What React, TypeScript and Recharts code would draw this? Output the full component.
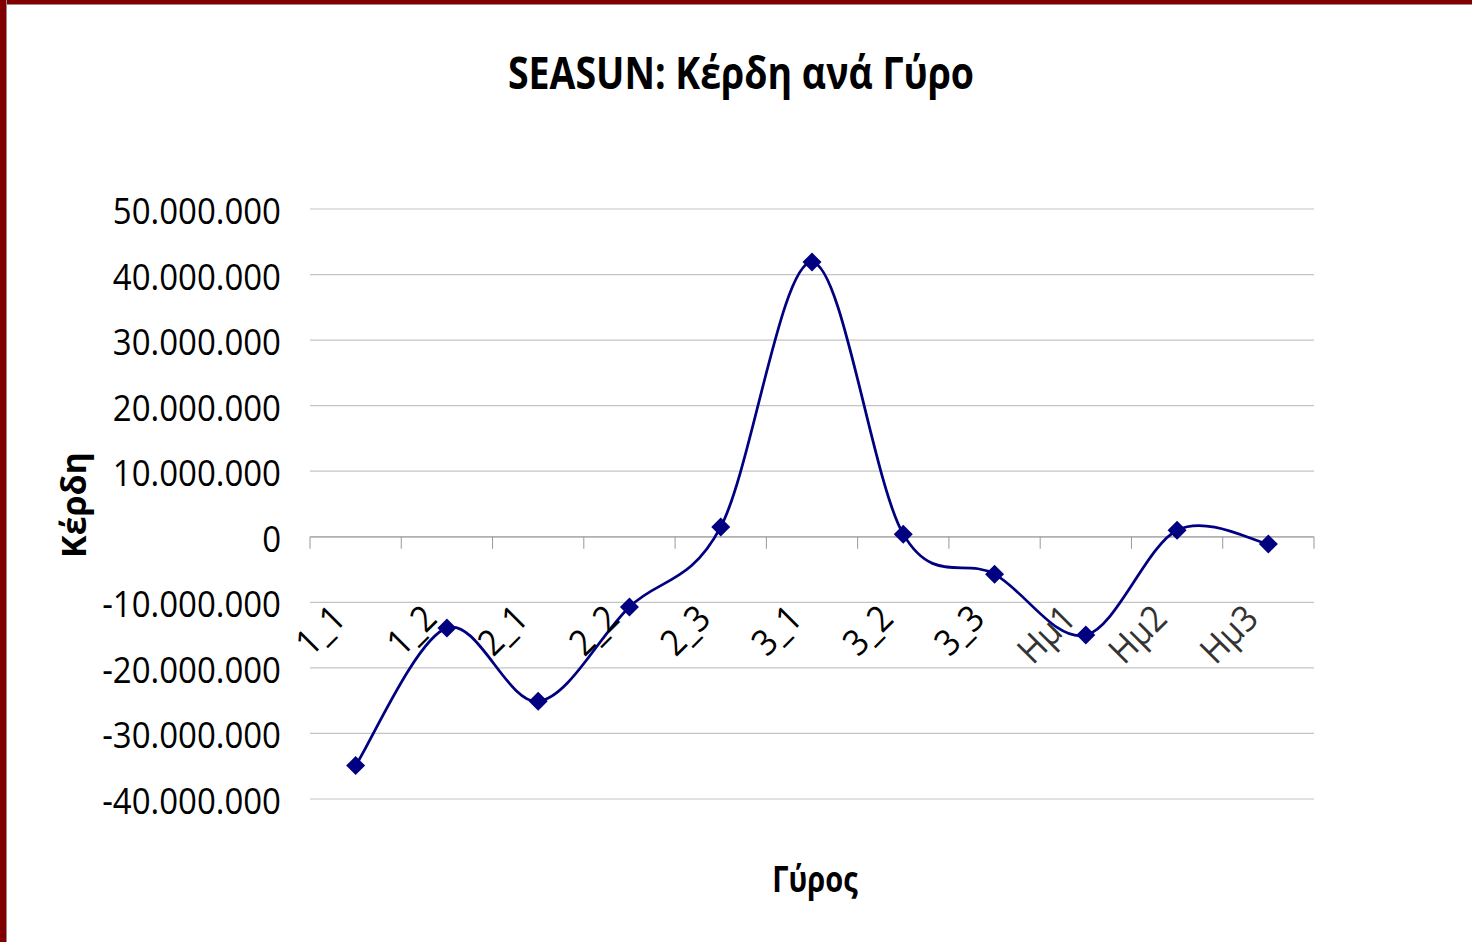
import React from 'react';
import {
  LineChart,
  Line,
  XAxis,
  YAxis,
  CartesianGrid,
  ReferenceLine,
  ReferenceDot,
} from 'recharts';

// rounds and profit per round
const rounds = ['1_1', '1_2', '2_1', '2_2', '2_3', '3_1', '3_2', '3_3', 'Ημ1', 'Ημ2', 'Ημ3'];
const profits = [
  -34900000, -13900000, -25100000, -10700000, 1500000, 41900000,
  400000, -5700000, -15000000, 1000000, -1100000,
];
const yTicks = [-40000000, -30000000, -20000000, -10000000, 0, 10000000, 20000000, 30000000, 40000000, 50000000];

const data = rounds.map((name, i) => ({ idx: i, name, profit: profits[i] }));
// category borders, where Excel puts its tick marks
const borders = rounds.map((_, i) => i - 0.5).concat([rounds.length - 0.5]);

const FONT = '"Open Sans", sans-serif';
const NAVY = '#000080';

const fmt = (v: number) => {
  const s = Math.abs(v).toString().replace(/\B(?=(\d{3})+(?!\d))/g, '.');
  return v < 0 ? '-' + s : s;
};

// smoothed line like Excel: catmull-rom style bezier segments
const smoothCurve = (context: any) => {
  let pts: number[][] = [];
  return {
    areaStart() {},
    areaEnd() {},
    lineStart() {
      pts = [];
    },
    lineEnd() {
      if (!pts.length) return;
      context.moveTo(pts[0][0], pts[0][1]);
      for (let i = 0; i < pts.length - 1; i++) {
        const p0 = pts[i - 1] || pts[i];
        const p1 = pts[i];
        const p2 = pts[i + 1];
        const p3 = pts[i + 2] || p2;
        context.bezierCurveTo(
          p1[0] + (p2[0] - p0[0]) / 6,
          p1[1] + (p2[1] - p0[1]) / 6,
          p2[0] - (p3[0] - p1[0]) / 6,
          p2[1] - (p3[1] - p1[1]) / 6,
          p2[0],
          p2[1]
        );
      }
    },
    point(x: number, y: number) {
      pts.push([+x, +y]);
    },
  };
};

const Diamond = (props: any) => {
  const { cx, cy, index } = props;
  const r = 9.5;
  return (
    <polygon
      key={`d-${index}`}
      points={`${cx},${cy - r} ${cx + r},${cy} ${cx},${cy + r} ${cx - r},${cy}`}
      fill={NAVY}
    />
  );
};

// the original text is a bit taller than Open Sans
const stretch = (x: number, y: number, k: number) =>
  `translate(${x},${y}) scale(1,${k}) translate(${-x},${-y})`;

const YTick = (props: any) => {
  const { x, y, payload } = props;
  const ty = y + 15;
  return (
    <text
      x={x}
      y={ty}
      textAnchor="end"
      fontFamily={FONT}
      fontSize={33}
      fill="#000"
      transform={stretch(x, ty, 1.1)}
    >
      {fmt(payload.value)}
    </text>
  );
};

const TickMark = (props: any) => {
  const { cx, cy } = props;
  return <line x1={cx} y1={cy} x2={cx} y2={cy + 12} stroke="#999" strokeWidth={1} />;
};

const makeCatLabel = (label: string) => (props: any) => {
  const { cx, cy } = props;
  const x = cx - 8;
  const y = cy + 84;
  return (
    <text
      x={x}
      y={y}
      textAnchor="end"
      fontFamily={FONT}
      fontSize={33}
      fill={label.startsWith('Η') ? '#333' : '#000'}
      transform={`rotate(-45, ${x}, ${y}) ${stretch(x, y, 1.1)}`}
    >
      {label}
    </text>
  );
};

export default function App() {
  return (
    <div style={{ position: 'relative', width: 1472, height: 942, background: '#fff', overflow: 'hidden' }}>
      <style>{`body{margin:0;overflow:hidden}`}</style>
      <div style={{ position: 'absolute', left: 0, top: 0, width: 1472, height: 4, background: '#800000', borderBottom: '1px solid #9a8a8a' }} />
      <div style={{ position: 'absolute', left: 0, top: 0, width: 6, height: 942, background: '#800000', borderRight: '1px solid #9a8a8a' }} />
      <div
        style={{
          position: 'absolute',
          left: 741,
          top: 72,
          transform: 'translate(-50%, -50%) scale(1, 1.2)',
          fontFamily: FONT,
          fontWeight: 700,
          fontSize: 37.5,
          color: '#000',
          whiteSpace: 'nowrap',
        }}
      >
        SEASUN: Κέρδη ανά Γύρο
      </div>
      <div
        style={{
          position: 'absolute',
          left: 73,
          top: 505,
          transform: 'translate(-50%, -50%) rotate(-90deg)',
          fontFamily: FONT,
          fontWeight: 700,
          fontSize: 34,
          whiteSpace: 'nowrap',
        }}
      >
        Κέρδη
      </div>
      <div
        style={{
          position: 'absolute',
          left: 815,
          top: 878,
          transform: 'translate(-50%, -50%) scale(1, 1.25)',
          fontFamily: FONT,
          fontWeight: 700,
          fontSize: 29,
          whiteSpace: 'nowrap',
        }}
      >
        Γύρος
      </div>
      <div style={{ position: 'absolute', left: 0, top: 0 }}>
        <LineChart
          width={1472}
          height={942}
          data={data}
          margin={{ top: 209, right: 158, bottom: 143, left: 0 }}
        >
          <CartesianGrid vertical={false} stroke="#c4c4c4" strokeWidth={1.2} />
          <XAxis type="number" dataKey="idx" domain={[-0.5, 10.5]} hide />
          <YAxis
            width={310}
            domain={[-40000000, 50000000]}
            ticks={yTicks}
            interval={0}
            axisLine={false}
            tickLine={false}
            tickSize={6}
            tickMargin={23}
            tick={<YTick />}
          />
          <ReferenceLine y={0} stroke="#a6a6a6" strokeWidth={1.2} />
          {borders.map((b) => (
            <ReferenceDot key={`b-${b}`} x={b} y={0} r={0} shape={<TickMark />} />
          ))}
          {rounds.map((r, i) => (
            <ReferenceDot key={`l-${r}`} x={i} y={0} r={0} shape={makeCatLabel(r)} />
          ))}
          <Line
            type={smoothCurve as any}
            dataKey="profit"
            stroke={NAVY}
            strokeWidth={2.75}
            dot={<Diamond />}
            activeDot={false}
            isAnimationActive={false}
          />
        </LineChart>
      </div>
    </div>
  );
}
